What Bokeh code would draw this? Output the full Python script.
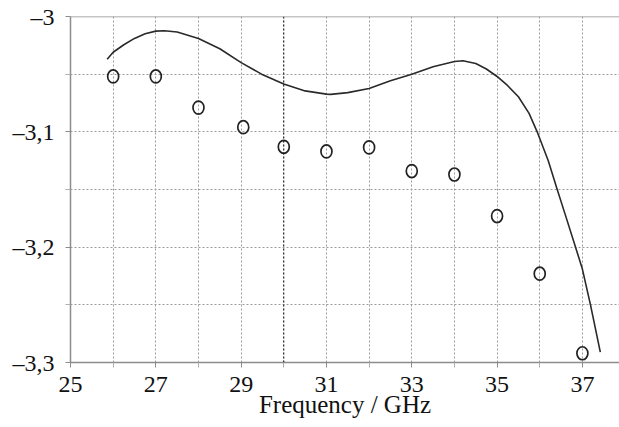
from bokeh.plotting import figure
from bokeh.models import FixedTicker, Span, Range1d
from bokeh.embed import file_html
from bokeh.resources import INLINE

# measured points (circles)
meas_freq = [26, 27, 28, 29.05, 30, 31, 32, 33, 34, 35, 36, 37]
meas_val = [-3.052, -3.052, -3.079, -3.096, -3.113, -3.117, -3.1135, -3.134, -3.137, -3.173, -3.223, -3.292]

# simulated curve
sim_freq = [25.86, 26.0, 26.25, 26.5, 26.75, 27.0, 27.2, 27.5, 28.0, 28.5, 29.0, 29.48, 30.0, 30.5,
            31.0, 31.1, 31.5, 32.0, 32.5, 33.0, 33.5, 34.0, 34.2, 34.5, 34.75, 35.0, 35.25, 35.5,
            35.75, 35.94, 36.2, 36.41, 36.6, 36.84, 37.0, 37.19, 37.42]
sim_val = [-3.037, -3.031, -3.0245, -3.019, -3.015, -3.0127, -3.0124, -3.0135, -3.019, -3.028,
           -3.040, -3.050, -3.0586, -3.0645, -3.0673, -3.0675, -3.066, -3.0624, -3.0558, -3.050,
           -3.0436, -3.039, -3.0384, -3.0407, -3.0455, -3.052, -3.060, -3.0696, -3.084, -3.100,
           -3.125, -3.150, -3.172, -3.200, -3.219, -3.250, -3.291]

x_major = [25, 27, 29, 31, 33, 35, 37]
x_minor = [26, 28, 30, 32, 34, 36, 38]
y_major = [-3.3, -3.2, -3.1, -3.0]
y_minor = [-3.25, -3.15, -3.05]
y_labels = {-3.3: "\u20133,3", -3.2: "\u20133,2", -3.1: "\u20133,1", -3.0: "\u20133"}
x_mark = 30
x_start, x_end = 25, 37.87
y_start, y_end = -3.3, -3.0

FONT = "'Liberation Serif', 'Times New Roman', serif"
GRID = "#9a9a9a"
AXIS = "#8c8c8c"

p = figure(width=619, height=427, output_backend="svg", toolbar_location=None,
           x_range=Range1d(x_start, x_end), y_range=Range1d(y_start, y_end),
           min_border_left=70, min_border_right=0, min_border_top=16, min_border_bottom=65)
p.outline_line_color = None
p.background_fill_color = "white"

p.xaxis.ticker = FixedTicker(ticks=x_major, minor_ticks=x_minor)
p.yaxis.ticker = FixedTicker(ticks=y_major, minor_ticks=y_minor)
p.yaxis.major_label_overrides = y_labels

for ax in (p.xaxis, p.yaxis):
    ax.axis_line_color = AXIS
    ax.axis_line_width = 1.5
    ax.major_tick_line_color = AXIS
    ax.major_tick_out = 5
    ax.major_tick_in = 0
    ax.minor_tick_line_color = "#b0b0b0"
    ax.minor_tick_out = 5
    ax.minor_tick_in = 0
    ax.major_label_text_font = FONT
    ax.major_label_text_font_size = "24px"
    ax.major_label_text_color = "#111111"

p.yaxis.major_label_standoff = 11
p.xaxis.major_label_standoff = 9
p.xaxis.axis_label = "Frequency / GHz"
p.xaxis.axis_label_text_font = FONT
p.xaxis.axis_label_text_font_size = "25px"
p.xaxis.axis_label_text_font_style = "normal"
p.xaxis.axis_label_text_color = "#111111"
p.xaxis.axis_label_standoff = -4

for g in (p.xgrid, p.ygrid):
    g.grid_line_color = GRID
    g.grid_line_dash = "2 2"
    g.grid_line_width = 1
    g.minor_grid_line_color = GRID
    g.minor_grid_line_dash = "2 2"
    g.minor_grid_line_width = 1

p.add_layout(Span(location=x_mark, dimension="height", line_color="#111111",
                  line_dash="2 2", line_width=1))
p.add_layout(Span(location=y_end, dimension="width", line_color=AXIS, line_width=1.5))

p.line(sim_freq, sim_val, line_color="#2a2a2a", line_width=1.6)
p.ellipse(meas_freq, meas_val, width=11, height=13, width_units="screen", height_units="screen",
          fill_color=None, line_color="#222222", line_width=1.7)

open("out.html", "w").write(file_html(p, INLINE))
